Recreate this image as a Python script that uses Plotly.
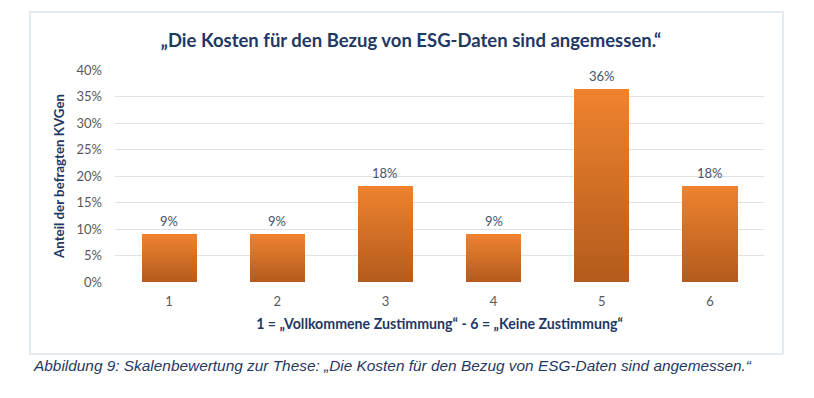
import plotly.graph_objects as go

categories = ["1", "2", "3", "4", "5", "6"]
values = [9.09, 9.09, 18.18, 9.09, 36.36, 18.18]
labels = ["9%", "9%", "18%", "9%", "36%", "18%"]
y_ticks = [0, 5, 10, 15, 20, 25, 30, 35, 40]
y_ticklabels = [f"{t}%" for t in y_ticks]

title = "„Die Kosten für den Bezug von ESG-Daten sind angemessen.“"
x_title = "1 = „Vollkommene Zustimmung“ - 6 = „Keine Zustimmung“"
y_title = "Anteil der befragten KVGen"
caption = "Abbildung 9: Skalenbewertung zur These: „Die Kosten für den Bezug von ESG-Daten sind angemessen.“"

NAVY = "#1F3864"
FONT = "Lato, Open Sans, sans-serif"
top_rgb = (238, 130, 47)
bot_rgb = (180, 92, 29)
N = 30

# page has an 8px body margin; figure coords = screen coords - 8
W, H = 806, 390
L, R, T, B = 107, 50, 62, 116
PW = W - L - R
PH = H - T - B


def px(x):
    return (x - 8 - L) / PW


def py(y):
    return (H - B - (y - 8)) / PH


fig = go.Figure()
for i in range(N):
    f = i / (N - 1)
    c = tuple(int(round(b + (t - b) * f)) for b, t in zip(bot_rgb, top_rgb))
    fig.add_trace(go.Bar(
        x=categories, y=[v / N for v in values],
        marker=dict(color=f"rgb{c}", line=dict(width=0)),
        width=0.51, showlegend=False, hoverinfo="skip",
    ))

annotations = [
    dict(x=idx, y=v, text=t, xref="x", yref="y", showarrow=False,
         yanchor="bottom", yshift=3,
         font=dict(family=FONT, size=13, color="#44546A"))
    for idx, (v, t) in enumerate(zip(values, labels))
]
annotations.append(dict(
    text=f"<i>{caption}</i>", xref="paper", yref="paper",
    x=px(31), y=py(365), xanchor="left", yanchor="middle", showarrow=False,
    font=dict(family="Liberation Sans, Arial, sans-serif", size=15.4, color=NAVY)))

fig.update_layout(
    width=W, height=H, autosize=False,
    barmode="stack", bargap=0,
    paper_bgcolor="white", plot_bgcolor="white",
    margin=dict(l=L, r=R, t=T, b=B),
    title=dict(text=f"<b>{title}</b>", x=0.5, xanchor="center",
               y=1 - (41 - 8) / H, yanchor="middle",
               font=dict(family=FONT, size=18.5, color=NAVY)),
    xaxis=dict(
        type="category", showgrid=False, zeroline=False, showline=False,
        range=[-0.5, len(categories) - 0.5],
        ticks="", ticklabelstandoff=10,
        tickfont=dict(family=FONT, size=13, color="#595959"),
        title=dict(text=f"<b>{x_title}</b>", standoff=11,
                   font=dict(family=FONT, size=14.2, color=NAVY)),
    ),
    yaxis=dict(
        range=[0, 40], tickvals=y_ticks, ticktext=y_ticklabels,
        showgrid=True, gridcolor="#DCE2E8", gridwidth=1, zeroline=False,
        showline=False, ticks="", ticklabelstandoff=12,
        tickfont=dict(family=FONT, size=13, color="#595959"),
        title=dict(text=f"<b>{y_title}</b>", standoff=8,
                   font=dict(family=FONT, size=13.3, color=NAVY)),
    ),
    shapes=[dict(type="rect", xref="paper", yref="paper",
                 x0=px(30), x1=px(783), y0=py(354), y1=py(12),
                 line=dict(color="#DDE3EA", width=1.5), fillcolor="rgba(0,0,0,0)",
                 layer="below")],
    annotations=annotations,
)

fig.write_html("out.html")
